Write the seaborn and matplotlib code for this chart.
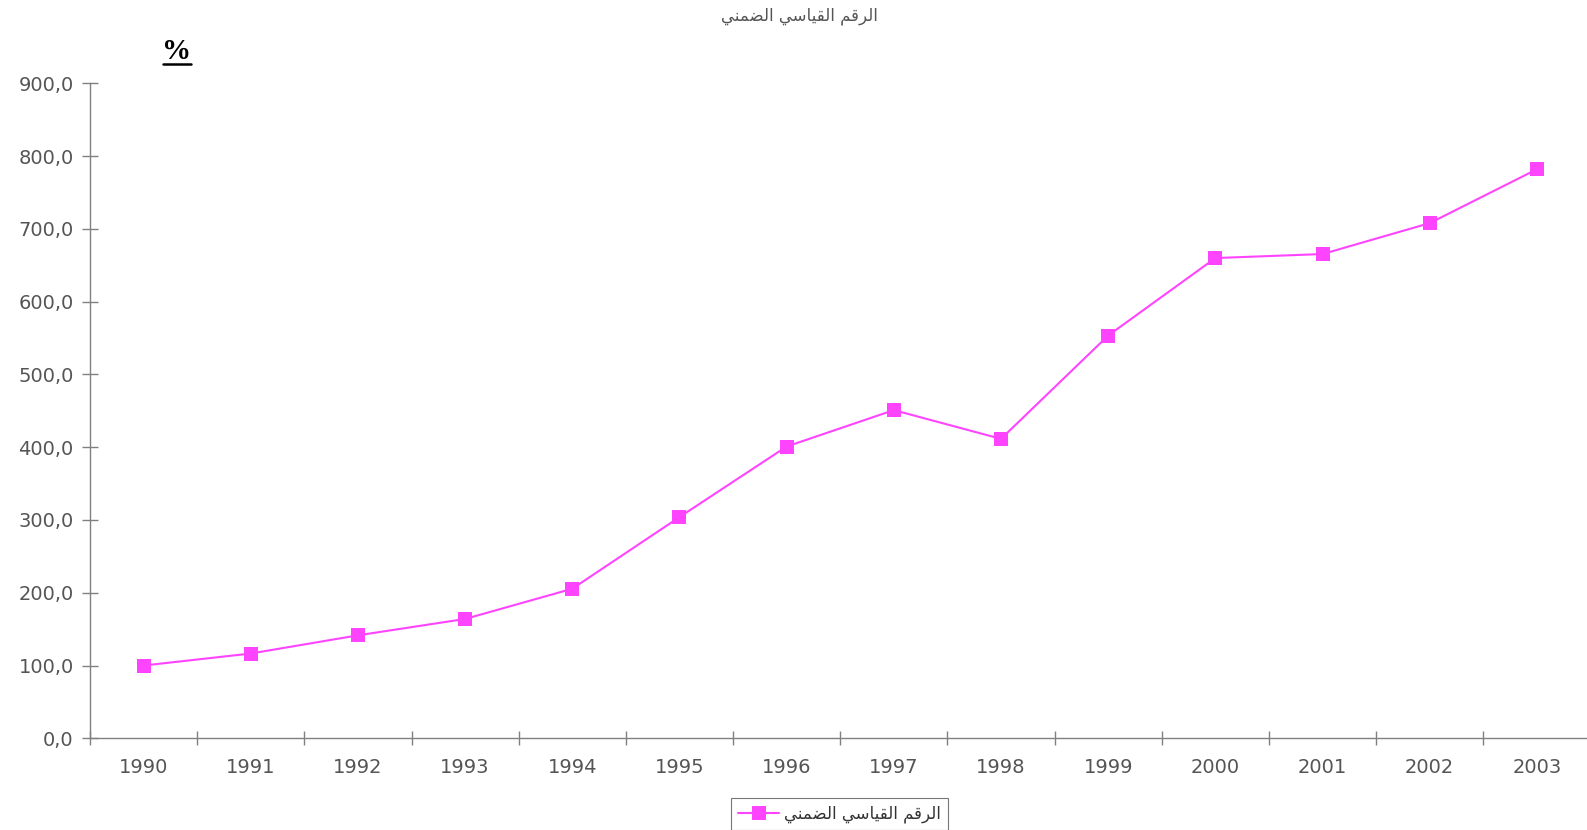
import numpy as np
import pandas as pd
import matplotlib
matplotlib.use("Agg")
import matplotlib.pyplot as plt
from matplotlib.ticker import FixedLocator, FuncFormatter
from matplotlib.lines import Line2D
import seaborn as sns

years = ["1990", "1991", "1992", "1993", "1994", "1995", "1996",
         "1997", "1998", "1999", "2000", "2001", "2002", "2003"]
index_values = [100.0, 116.5, 141.5, 164.0, 205.5, 304.0, 401.0,
                451.0, 411.5, 553.5, 660.0, 665.5, 708.0, 782.0]
series_name = "الرقم القياسي الضمني"
y_ticks = [0, 100, 200, 300, 400, 500, 600, 700, 800, 900]

# matplotlib has no arabic shaping, so pick presentation forms by hand
# (isolated, final, initial, medial)
forms = {
    "ا": ("\uFE8D", "\uFE8E", None, None),
    "ر": ("\uFEAD", "\uFEAE", None, None),
    "ل": ("\uFEDD", "\uFEDE", "\uFEDF", "\uFEE0"),
    "ق": ("\uFED5", "\uFED6", "\uFED7", "\uFED8"),
    "م": ("\uFEE1", "\uFEE2", "\uFEE3", "\uFEE4"),
    "ي": ("\uFEF1", "\uFEF2", "\uFEF3", "\uFEF4"),
    "س": ("\uFEB1", "\uFEB2", "\uFEB3", "\uFEB4"),
    "ض": ("\uFEBD", "\uFEBE", "\uFEBF", "\uFEC0"),
    "ن": ("\uFEE5", "\uFEE6", "\uFEE7", "\uFEE8"),
}


def shape(text):
    out = []
    for i, ch in enumerate(text):
        if ch not in forms:
            out.append(ch)
            continue
        prev = text[i - 1] if i > 0 else ""
        nxt = text[i + 1] if i + 1 < len(text) else ""
        join_prev = prev in forms and forms[prev][2] is not None
        join_next = nxt in forms and forms[ch][2] is not None
        iso, fin, ini, med = forms[ch]
        if join_prev and join_next:
            out.append(med)
        elif join_prev:
            out.append(fin)
        elif join_next:
            out.append(ini)
        else:
            out.append(iso)
    return "".join(out)[::-1]


sns.set_style("white")
plt.rcParams["font.family"] = ["DejaVu Sans"]

df = pd.DataFrame({"year": years, "value": index_values})

fig = plt.figure(figsize=(15.87, 8.30), dpi=100)
ax = fig.add_axes([0.0567, 0.1105, 0.9455, 0.789])

color = "#FF44FF"
sns.lineplot(data=df, x="year", y="value", ax=ax, color=color,
             marker="s", markersize=10, markeredgewidth=0, linewidth=1.5,
             label=shape(series_name))

ax.set_xlim(-0.5, len(years) - 0.5)
ax.set_ylim(0, 900)
ax.set_yticks(y_ticks)
ax.yaxis.set_major_formatter(FuncFormatter(lambda v, p: f"{v:.1f}".replace(".", ",")))
ax.xaxis.set_minor_locator(FixedLocator(np.arange(-0.5, len(years), 1.0)))
ax.set_xlabel("")
ax.set_ylabel("")

for side in ["top", "right"]:
    ax.spines[side].set_visible(False)
for side in ["left", "bottom"]:
    ax.spines[side].set_color("#808080")
    ax.spines[side].set_linewidth(1.0)

ax.tick_params(axis="y", direction="inout", length=11.5, width=1.0, color="#808080",
               labelsize=14, labelcolor="#555555", pad=6, left=True)
ax.tick_params(axis="x", which="major", length=0, labelsize=14,
               labelcolor="#555555", pad=14.5)
ax.tick_params(axis="x", which="minor", direction="inout", length=10, width=1.0,
               color="#808080", bottom=True)

fig.text(0.504, 0.981, shape(series_name), fontsize=12, color="#555555", ha="center", va="center")

fig.text(0.1115, 0.938, "%", family="Liberation Serif", fontsize=21, fontweight="bold",
         color="black", ha="center", va="center")
fig.add_artist(Line2D([0.1027, 0.1204], [0.9225, 0.9225], color="black", linewidth=1.8,
                      transform=fig.transFigure))

leg = ax.legend(loc="center", bbox_to_anchor=(0.529, 0.019), bbox_transform=fig.transFigure,
                frameon=True, fancybox=False, shadow=False, fontsize=12,
                handlelength=2.5, borderpad=0.4, handletextpad=0.3)
leg.get_frame().set_edgecolor("#555555")
leg.get_frame().set_linewidth(0.8)
for t in leg.get_texts():
    t.set_color("#333333")

fig.savefig("out.png", dpi=100)
